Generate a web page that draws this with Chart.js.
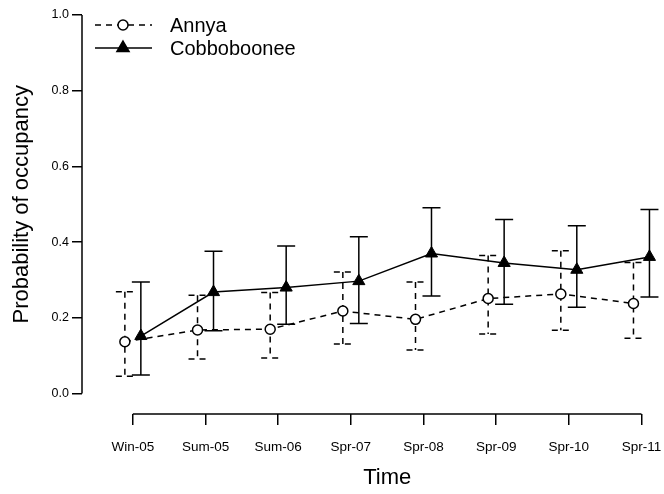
<!DOCTYPE html>
<html>
<head>
<meta charset="utf-8">
<script src="https://cdn.jsdelivr.net/npm/chart.js@4"></script>
<style>
  body { margin: 0; background: #fff; }
</style>
</head>
<body>
<canvas id="myChart" width="664" height="494"></canvas>
<script>
'use strict';

const ctx = document.getElementById('myChart');

// survey periods
const timeLabels = ['Win-05', 'Sum-05', 'Sum-06', 'Spr-07', 'Spr-08', 'Spr-09', 'Spr-10', 'Spr-11'];

// occupancy estimates with lower / upper interval
const annyaMean = [0.137, 0.168, 0.170, 0.218, 0.196, 0.251, 0.263, 0.238];
const annyaLow  = [0.046, 0.091, 0.094, 0.131, 0.115, 0.157, 0.167, 0.146];
const annyaHigh = [0.269, 0.260, 0.267, 0.321, 0.295, 0.365, 0.377, 0.346];

const cobbMean = [0.152, 0.268, 0.280, 0.297, 0.370, 0.345, 0.327, 0.361];
const cobbLow  = [0.049, 0.166, 0.183, 0.185, 0.258, 0.236, 0.228, 0.255];
const cobbHigh = [0.295, 0.376, 0.390, 0.414, 0.491, 0.460, 0.443, 0.486];

const yTicks = [0, 0.2, 0.4, 0.6, 0.8, 1.0];

const FONT = 'Liberation Sans, Arial, Helvetica, sans-serif';
const DODGE = 0.11; // small sideways shift so the two series don't overlap

function toPoints(mean, low, high, shift) {
  return mean.map((v, i) => ({ x: i + shift, y: v, lo: low[i], hi: high[i] }));
}

// draw the interval bars behind the markers
const errorBars = {
  id: 'errorBars',
  beforeDatasetsDraw(chart) {
    const c = chart.ctx;
    const xs = chart.scales.x, ys = chart.scales.y;
    const cap = 9;
    chart.data.datasets.forEach(ds => {
      c.save();
      c.strokeStyle = '#000';
      c.lineWidth = 1.5;
      c.setLineDash(ds.borderDash || []);
      ds.data.forEach(p => {
        const px = xs.getPixelForValue(p.x);
        const top = ys.getPixelForValue(p.hi);
        const bot = ys.getPixelForValue(p.lo);
        c.beginPath();
        c.moveTo(px, top); c.lineTo(px, bot);
        c.moveTo(px - cap, top); c.lineTo(px + cap, top);
        c.moveTo(px - cap, bot); c.lineTo(px + cap, bot);
        c.stroke();
      });
      c.restore();
    });
  },
  afterDraw(chart) {
    const c = chart.ctx;
    const xs = chart.scales.x, ys = chart.scales.y;
    c.save();
    c.strokeStyle = '#000';
    c.lineWidth = 1.5;

    // R style detached axes
    const y0 = ys.getPixelForValue(yTicks[0]);
    const y1 = ys.getPixelForValue(yTicks[yTicks.length - 1]);
    c.beginPath();
    c.moveTo(chart.chartArea.left, y0);
    c.lineTo(chart.chartArea.left, y1);
    c.stroke();

    const x0 = xs.getPixelForValue(0);
    const x1 = xs.getPixelForValue(timeLabels.length - 1);
    c.beginPath();
    c.moveTo(x0, chart.chartArea.bottom);
    c.lineTo(x1, chart.chartArea.bottom);
    c.stroke();

    // axis titles
    c.fillStyle = '#000';
    c.font = '22px ' + FONT;
    c.textAlign = 'center';
    c.textBaseline = 'middle';
    c.fillText('Time', (x0 + x1) / 2, 478);
    c.save();
    c.translate(22, (y0 + y1) / 2);
    c.rotate(-Math.PI / 2);
    c.fillText('Probability of occupancy', 0, 0);
    c.restore();

    // legend
    const lx0 = 95, lx1 = 152, mx = 123, tx = 170;
    c.font = '20px ' + FONT;
    c.textAlign = 'left';

    c.setLineDash([6, 5]);
    c.beginPath(); c.moveTo(lx0, 25); c.lineTo(lx1, 25); c.stroke();
    c.setLineDash([]);
    c.beginPath(); c.arc(mx, 25, 5, 0, Math.PI * 2);
    c.fillStyle = '#fff'; c.fill(); c.stroke();
    c.fillStyle = '#000';
    c.fillText('Annya', tx, 26);

    c.beginPath(); c.moveTo(lx0, 48); c.lineTo(lx1, 48); c.stroke();
    const r = 7;
    c.beginPath();
    c.moveTo(mx, 48 - r);
    c.lineTo(mx + r * Math.sin(2 * Math.PI / 3), 48 - r * Math.cos(2 * Math.PI / 3));
    c.lineTo(mx + r * Math.sin(4 * Math.PI / 3), 48 - r * Math.cos(4 * Math.PI / 3));
    c.closePath();
    c.fill(); c.stroke();
    c.fillText('Cobboboonee', tx, 49);
    c.restore();
  }
};

new Chart(ctx, {
  type: 'line',
  data: {
    datasets: [{
      label: 'Annya',
      data: toPoints(annyaMean, annyaLow, annyaHigh, -DODGE),
      borderColor: '#000',
      borderWidth: 1.5,
      borderDash: [6, 5],
      pointStyle: 'circle',
      pointRadius: 5,
      pointBackgroundColor: '#fff',
      pointBorderColor: '#000',
      pointBorderWidth: 1.5,
      tension: 0
    }, {
      label: 'Cobboboonee',
      data: toPoints(cobbMean, cobbLow, cobbHigh, DODGE),
      borderColor: '#000',
      borderWidth: 1.5,
      pointStyle: 'triangle',
      pointRadius: 7,
      pointBackgroundColor: '#000',
      pointBorderColor: '#000',
      pointBorderWidth: 1,
      tension: 0
    }]
  },
  options: {
    responsive: false,
    animation: false,
    devicePixelRatio: 1,
    layout: { padding: { top: 15, right: 7, left: 0, bottom: 0 } },
    plugins: {
      legend: { display: false },
      tooltip: { enabled: false }
    },
    scales: {
      x: {
        type: 'linear',
        min: -0.70,
        max: 7.2,
        afterBuildTicks(scale) {
          scale.ticks = timeLabels.map((_, i) => ({ value: i }));
        },
        afterFit(scale) {
          scale.height = 80;
          scale.paddingLeft = 0;
          scale.paddingRight = 0;
        },
        border: { display: false },
        grid: {
          drawOnChartArea: false,
          drawTicks: true,
          tickLength: 11,
          color: '#000',
          lineWidth: 1.5
        },
        ticks: {
          color: '#000',
          font: { family: FONT, size: 13.5 },
          padding: 14,
          maxRotation: 0,
          autoSkip: false,
          callback: v => timeLabels[v]
        }
      },
      y: {
        min: -0.054,
        max: 1.0,
        afterBuildTicks(scale) {
          scale.ticks = yTicks.map(v => ({ value: v }));
        },
        afterFit(scale) { scale.width = 82; },
        border: { display: false },
        grid: {
          drawOnChartArea: false,
          drawTicks: true,
          tickLength: 10,
          color: '#000',
          lineWidth: 1.5
        },
        ticks: {
          color: '#000',
          font: { family: FONT, size: 12.5 },
          padding: 3,
          callback: v => v.toFixed(1)
        }
      }
    }
  },
  plugins: [errorBars]
});
</script>
</body>
</html>
